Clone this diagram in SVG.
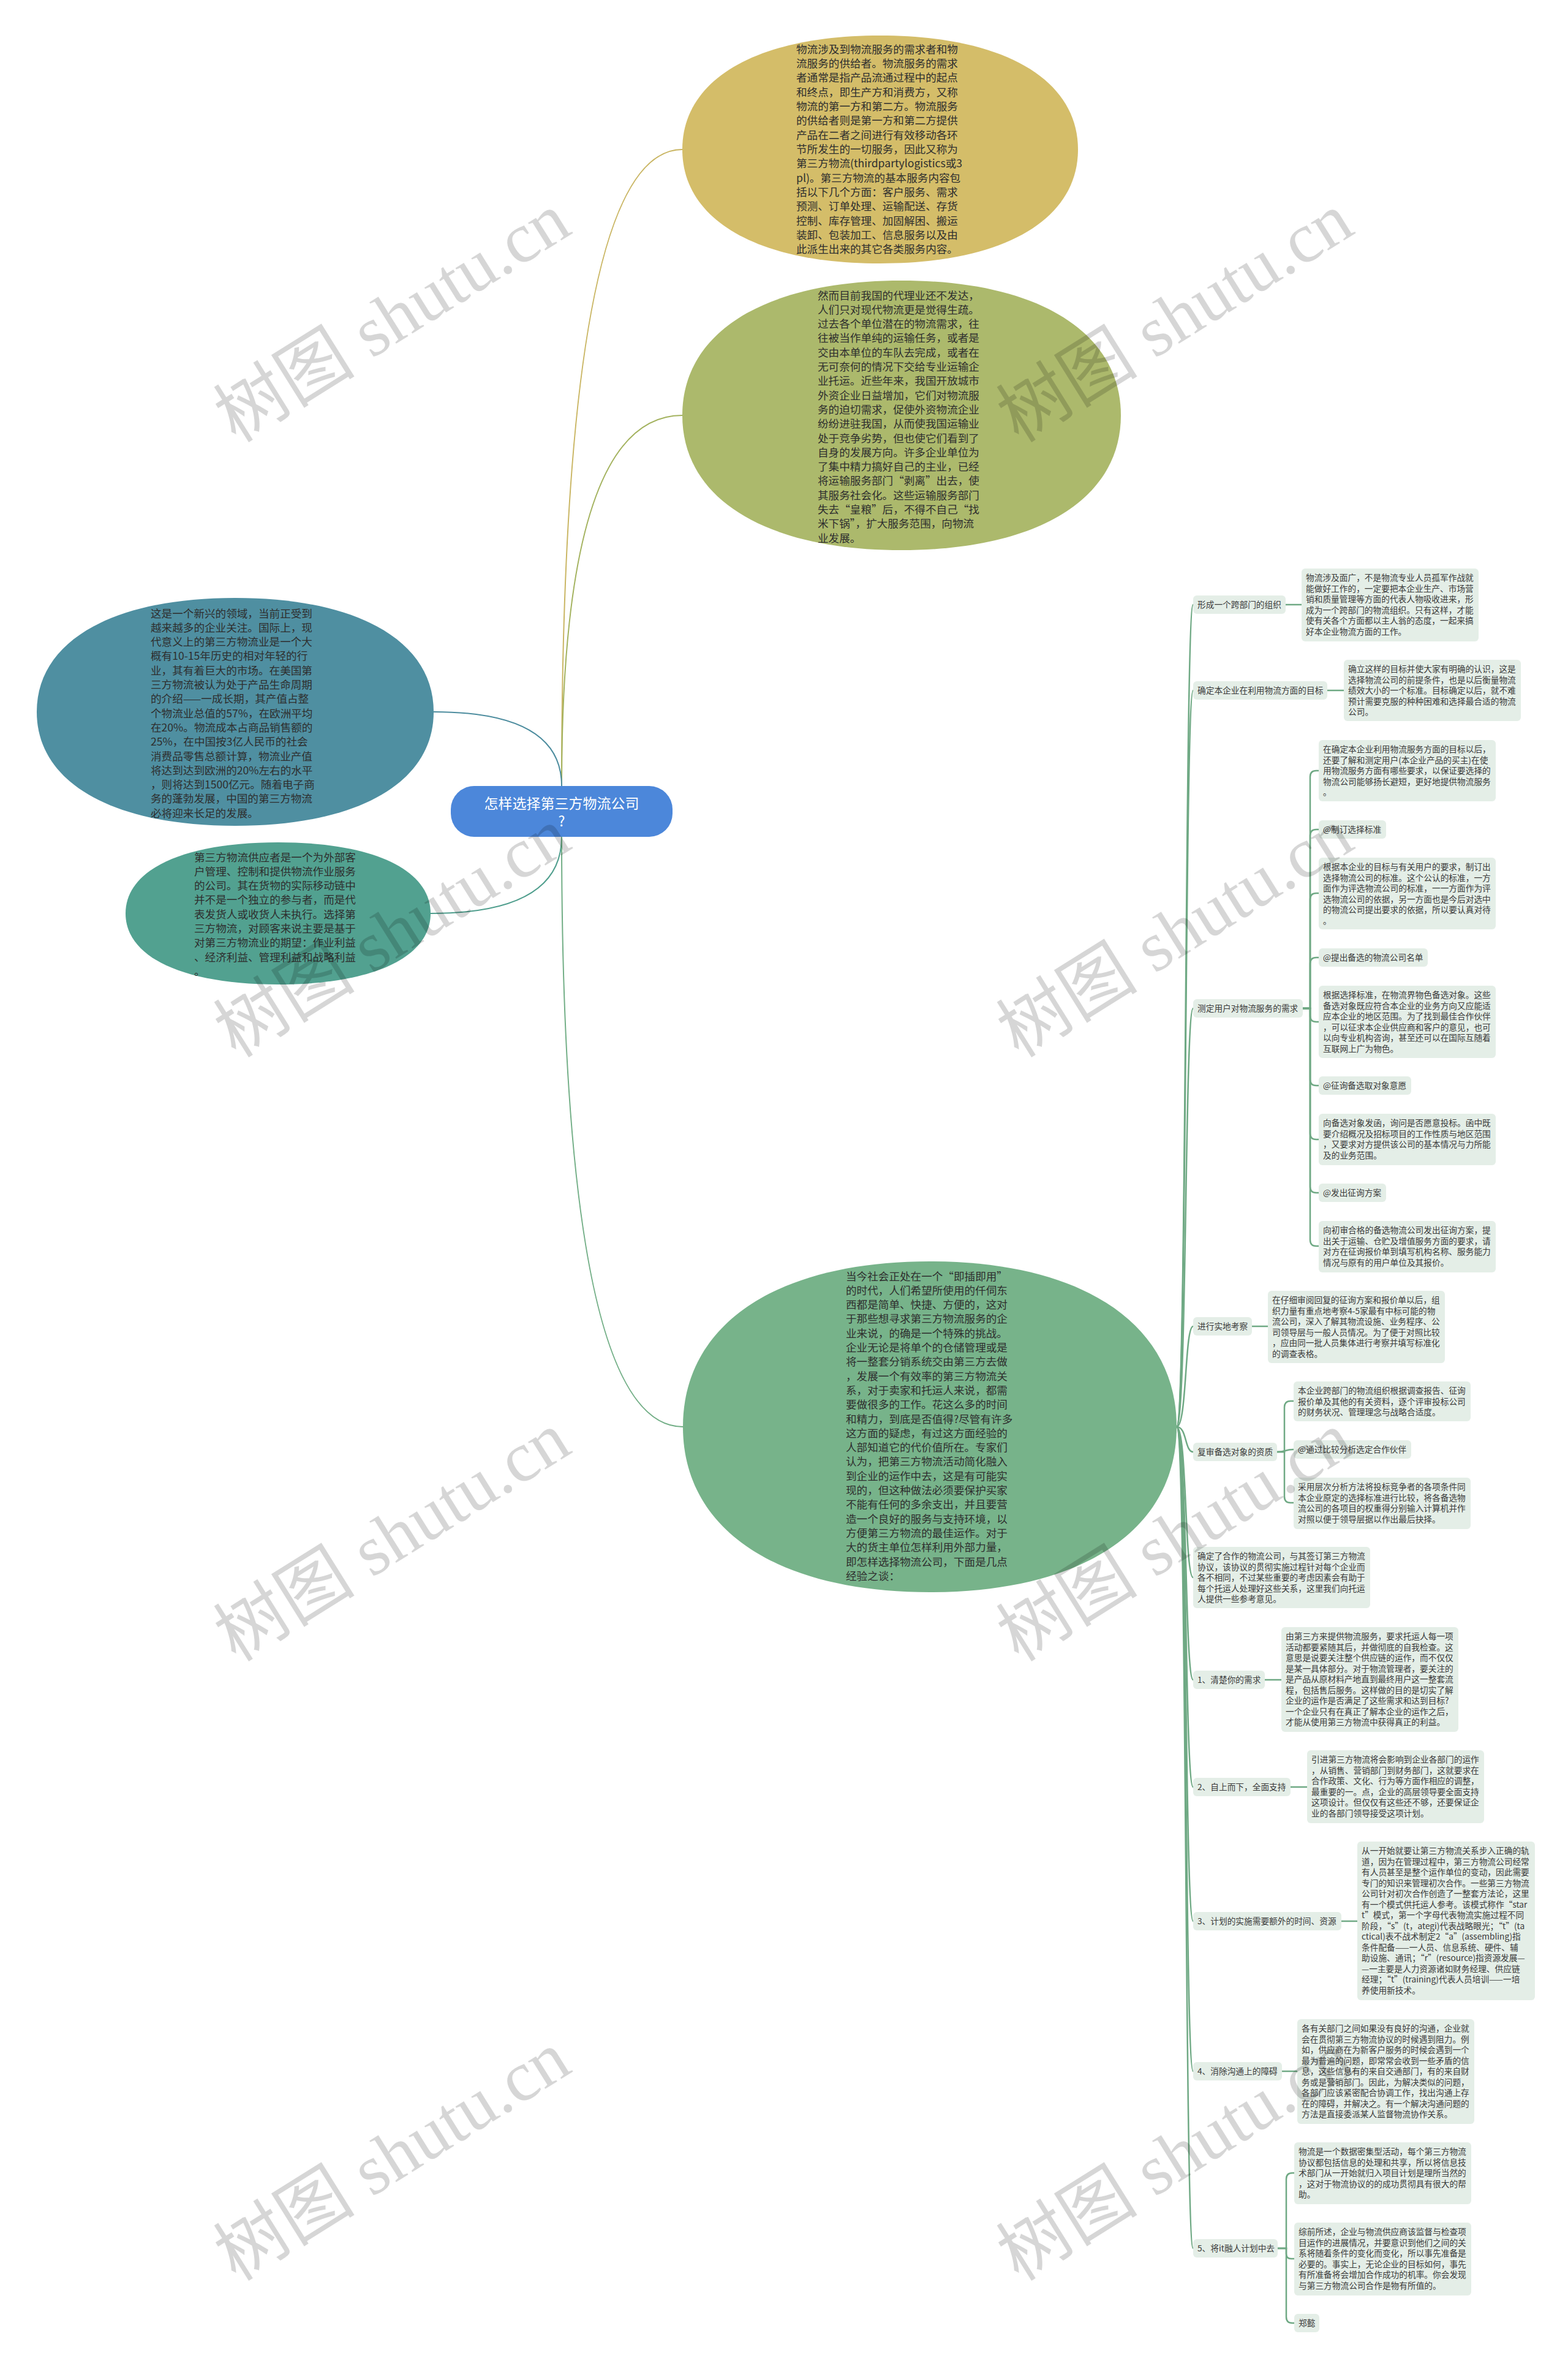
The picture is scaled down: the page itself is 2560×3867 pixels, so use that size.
<svg xmlns="http://www.w3.org/2000/svg" width="2560" height="3867" viewBox="0 0 2560 3867">
<style>
.el{font-family:"Noto Sans CJK SC","Liberation Sans",sans-serif;font-size:17.6px;fill:#2e2e2e}
.bt{font-family:"Noto Sans CJK SC","Liberation Sans",sans-serif;font-size:13.7px;fill:#3a3a3a}
.bx{fill:#E4EEE7}
.ln{fill:none;stroke:#6FA984;stroke-width:2.5}
.wm{font-family:"Liberation Serif","Noto Sans CJK SC",serif;font-size:116px;fill:#000;fill-opacity:0.16}
.ct{font-family:"Noto Sans CJK SC","Liberation Sans",sans-serif;font-size:23px;fill:#fff}
</style>
<rect width="2560" height="3867" fill="#fff"/>
<g id="connectors">
<path d="M917,1283 Q917,244 1114,244" fill="none" stroke="#C9B562" stroke-width="2"/>
<path d="M917,1283 Q917,678 1114,678" fill="none" stroke="#A3B25E" stroke-width="2"/>
<path d="M917,1283 Q917,1162 708,1162" fill="none" stroke="#4C8C9E" stroke-width="2"/>
<path d="M917,1366 Q917,1491 703,1491" fill="none" stroke="#4F9E8D" stroke-width="2"/>
<path d="M917,1366 Q917,2329 1115,2329" fill="none" stroke="#72AE86" stroke-width="2"/>
<path class="ln" d="M1921,2329 C1938,2329 1934,987 1948,987"/>
<path class="ln" d="M1921,2329 C1938,2329 1934,1127 1948,1127"/>
<path class="ln" d="M1921,2329 C1938,2329 1934,1646 1948,1646"/>
<path class="ln" d="M1921,2329 C1938,2329 1934,2165 1948,2165"/>
<path class="ln" d="M1921,2329 C1938,2329 1934,2370 1948,2370"/>
<path class="ln" d="M1921,2329 C1938,2329 1934,2575 1948,2575"/>
<path class="ln" d="M1921,2329 C1938,2329 1934,2742 1948,2742"/>
<path class="ln" d="M1921,2329 C1938,2329 1934,2917 1948,2917"/>
<path class="ln" d="M1921,2329 C1938,2329 1934,3136 1948,3136"/>
<path class="ln" d="M1921,2329 C1938,2329 1934,3381 1948,3381"/>
<path class="ln" d="M1921,2329 C1938,2329 1934,3670 1948,3670"/>
<path class="ln" d="M2099,987 H2125"/>
<path class="ln" d="M2167,1127 H2194"/>
<path class="ln" d="M2044,2165 H2070"/>
<path class="ln" d="M2065,2742 H2092"/>
<path class="ln" d="M2107,2917 H2134"/>
<path class="ln" d="M2190,3136 H2216"/>
<path class="ln" d="M2093,3381 H2118"/>
<path class="ln" d="M2127,1646 H2139 V1268 Q2139,1258 2149,1258 H2153"/>
<path class="ln" d="M2127,1646 H2139 V1364 Q2139,1354 2149,1354 H2153"/>
<path class="ln" d="M2127,1646 H2139 V1468 Q2139,1458 2149,1458 H2153"/>
<path class="ln" d="M2127,1646 H2139 V1573 Q2139,1563 2149,1563 H2153"/>
<path class="ln" d="M2127,1646 H2139 V1658 Q2139,1668 2149,1668 H2153"/>
<path class="ln" d="M2127,1646 H2139 V1762 Q2139,1772 2149,1772 H2153"/>
<path class="ln" d="M2127,1646 H2139 V1850 Q2139,1860 2149,1860 H2153"/>
<path class="ln" d="M2127,1646 H2139 V1937 Q2139,1947 2149,1947 H2153"/>
<path class="ln" d="M2127,1646 H2139 V2024 Q2139,2034 2149,2034 H2153"/>
<path class="ln" d="M2085,2370 H2097 V2297 Q2097,2287 2107,2287 H2112"/>
<path class="ln" d="M2085,2370 C2100,2370 2097,2366 2112,2366"/>
<path class="ln" d="M2085,2370 H2097 V2443 Q2097,2453 2107,2453 H2112"/>
<path class="ln" d="M2086,3670 H2100 V3557 Q2100,3547 2110,3547 H2113"/>
<path class="ln" d="M2086,3670 H2100 V3679 Q2100,3687 2108,3687 H2113"/>
<path class="ln" d="M2086,3670 H2100 V3782 Q2100,3792 2110,3792 H2113"/>
</g>
<g id="n-yellow">
<path d="M1114,244 C1114,128.7 1236.7,58 1437,58 C1637.3,58 1760,128.7 1760,244 C1760,359.3 1637.3,430 1437,430 C1236.7,430 1114,359.3 1114,244Z" fill="#D4BD69"/>
<text class="el" x="1300" y="86.5"><tspan x="1300" dy="0">物流涉及到物流服务的需求者和物</tspan><tspan x="1300" dy="23.35">流服务的供给者。物流服务的需求</tspan><tspan x="1300" dy="23.35">者通常是指产品流通过程中的起点</tspan><tspan x="1300" dy="23.35">和终点，即生产方和消费方，又称</tspan><tspan x="1300" dy="23.35">物流的第一方和第二方。物流服务</tspan><tspan x="1300" dy="23.35">的供给者则是第一方和第二方提供</tspan><tspan x="1300" dy="23.35">产品在二者之间进行有效移动各环</tspan><tspan x="1300" dy="23.35">节所发生的一切服务，因此又称为</tspan><tspan x="1300" dy="23.35">第三方物流(thirdpartylogistics或3</tspan><tspan x="1300" dy="23.35">pl)。第三方物流的基本服务内容包</tspan><tspan x="1300" dy="23.35">括以下几个方面：客户服务、需求</tspan><tspan x="1300" dy="23.35">预测、订单处理、运输配送、存货</tspan><tspan x="1300" dy="23.35">控制、库存管理、加固解困、搬运</tspan><tspan x="1300" dy="23.35">装卸、包装加工、信息服务以及由</tspan><tspan x="1300" dy="23.35">此派生出来的其它各类服务内容。</tspan></text>
</g>
<g id="n-olive">
<path d="M1114,678 C1114,541.6 1250,458 1472,458 C1694,458 1830,541.6 1830,678 C1830,814.4 1694,898 1472,898 C1250,898 1114,814.4 1114,678Z" fill="#ACB96C"/>
<text class="el" x="1335" y="488.5"><tspan x="1335" dy="0">然而目前我国的代理业还不发达，</tspan><tspan x="1335" dy="23.3">人们只对现代物流更是觉得生疏。</tspan><tspan x="1335" dy="23.3">过去各个单位潜在的物流需求，往</tspan><tspan x="1335" dy="23.3">往被当作单纯的运输任务，或者是</tspan><tspan x="1335" dy="23.3">交由本单位的车队去完成，或者在</tspan><tspan x="1335" dy="23.3">无可奈何的情况下交给专业运输企</tspan><tspan x="1335" dy="23.3">业托运。近些年来，我国开放城市</tspan><tspan x="1335" dy="23.3">外资企业日益增加，它们对物流服</tspan><tspan x="1335" dy="23.3">务的迫切需求，促使外资物流企业</tspan><tspan x="1335" dy="23.3">纷纷进驻我国，从而使我国运输业</tspan><tspan x="1335" dy="23.3">处于竞争劣势，但也使它们看到了</tspan><tspan x="1335" dy="23.3">自身的发展方向。许多企业单位为</tspan><tspan x="1335" dy="23.3">了集中精力搞好自己的主业，已经</tspan><tspan x="1335" dy="23.3">将运输服务部门“剥离”出去，使</tspan><tspan x="1335" dy="23.3">其服务社会化。这些运输服务部门</tspan><tspan x="1335" dy="23.3">失去“皇粮”后，不得不自己“找</tspan><tspan x="1335" dy="23.3">米下锅”，扩大服务范围，向物流</tspan><tspan x="1335" dy="23.3">业发展。</tspan></text>
</g>
<g id="n-blue">
<path d="M60,1162 C60,1046.7 183.1,976 384,976 C584.9,976 708,1046.7 708,1162 C708,1277.3 584.9,1348 384,1348 C183.1,1348 60,1277.3 60,1162Z" fill="#4F8FA1"/>
<text class="el" x="246" y="1007.5"><tspan x="246" dy="0">这是一个新兴的领域，当前正受到</tspan><tspan x="246" dy="23.3">越来越多的企业关注。国际上，现</tspan><tspan x="246" dy="23.3">代意义上的第三方物流业是一个大</tspan><tspan x="246" dy="23.3">概有10-15年历史的相对年轻的行</tspan><tspan x="246" dy="23.3">业，其有着巨大的市场。在美国第</tspan><tspan x="246" dy="23.3">三方物流被认为处于产品生命周期</tspan><tspan x="246" dy="23.3">的介绍——一成长期，其产值占整</tspan><tspan x="246" dy="23.3">个物流业总值的57%，在欧洲平均</tspan><tspan x="246" dy="23.3">在20%。物流成本占商品销售额的</tspan><tspan x="246" dy="23.3">25%，在中国按3亿人民币的社会</tspan><tspan x="246" dy="23.3">消费品零售总额计算，物流业产值</tspan><tspan x="246" dy="23.3">将达到达到欧洲的20%左右的水平</tspan><tspan x="246" dy="23.3">，则将达到1500亿元。随着电子商</tspan><tspan x="246" dy="23.3">务的蓬勃发展，中国的第三方物流</tspan><tspan x="246" dy="23.3">必将迎来长足的发展。</tspan></text>
</g>
<g id="n-teal">
<path d="M205,1491 C205,1419.1 299.6,1375 454,1375 C608.4,1375 703,1419.1 703,1491 C703,1562.9 608.4,1607 454,1607 C299.6,1607 205,1562.9 205,1491Z" fill="#52A190"/>
<text class="el" x="317" y="1405.5"><tspan x="317" dy="0">第三方物流供应者是一个为外部客</tspan><tspan x="317" dy="23.3">户管理、控制和提供物流作业服务</tspan><tspan x="317" dy="23.3">的公司。其在货物的实际移动链中</tspan><tspan x="317" dy="23.3">并不是一个独立的参与者，而是代</tspan><tspan x="317" dy="23.3">表发货人或收货人未执行。选择第</tspan><tspan x="317" dy="23.3">三方物流，对顾客来说主要是基于</tspan><tspan x="317" dy="23.3">对第三方物流业的期望：作业利益</tspan><tspan x="317" dy="23.3">、经济利益、管理利益和战略利益</tspan><tspan x="317" dy="23.3">。</tspan></text>
</g>
<g id="n-center">
<rect x="736" y="1283" width="362" height="83" rx="38" fill="#4C87DA"/>
<text class="ct" x="917" y="1320" text-anchor="middle">怎样选择第三方物流公司</text>
<text class="ct" x="917" y="1349" text-anchor="middle">?</text>
</g>
<g id="n-green">
<path d="M1115,2329 C1115,2161.6 1268.1,2059 1518,2059 C1767.9,2059 1921,2161.6 1921,2329 C1921,2496.4 1767.9,2599 1518,2599 C1268.1,2599 1115,2496.4 1115,2329Z" fill="#77B38A"/>
<text class="el" x="1381" y="2089.5"><tspan x="1381" dy="0">当今社会正处在一个“即插即用”</tspan><tspan x="1381" dy="23.3">的时代，人们希望所使用的仟伺东</tspan><tspan x="1381" dy="23.3">西都是简单、快捷、方便的，这对</tspan><tspan x="1381" dy="23.3">于那些想寻求第三方物流服务的企</tspan><tspan x="1381" dy="23.3">业来说，的确是一个特殊的挑战。</tspan><tspan x="1381" dy="23.3">企业无论是将单个的仓储管理或是</tspan><tspan x="1381" dy="23.3">将一整套分销系统交由第三方去做</tspan><tspan x="1381" dy="23.3">，发展一个有效率的第三方物流关</tspan><tspan x="1381" dy="23.3">系，对于卖家和托运人来说，都需</tspan><tspan x="1381" dy="23.3">要做很多的工作。花这么多的时间</tspan><tspan x="1381" dy="23.3">和精力，到底是否值得?尽管有许多</tspan><tspan x="1381" dy="23.3">这方面的疑虑，有过这方面经验的</tspan><tspan x="1381" dy="23.3">人部知道它的代价值所在。专家们</tspan><tspan x="1381" dy="23.3">认为，把第三方物流活动简化融入</tspan><tspan x="1381" dy="23.3">到企业的运作中去，这是有可能实</tspan><tspan x="1381" dy="23.3">现的，但这种做法必须要保护买家</tspan><tspan x="1381" dy="23.3">不能有任何的多余支出，并且要营</tspan><tspan x="1381" dy="23.3">造一个良好的服务与支持环境，以</tspan><tspan x="1381" dy="23.3">方便第三方物流的最佳运作。对于</tspan><tspan x="1381" dy="23.3">大的货主单位怎样利用外部力量，</tspan><tspan x="1381" dy="23.3">即怎样选择物流公司，下面是几点</tspan><tspan x="1381" dy="23.3">经验之谈：</tspan></text>
</g>
<g id="l1">
<rect class="bx" x="1948" y="972" width="151" height="30" rx="6"/>
<text class="bt" x="1955" y="992">形成一个跨部门的组织</text>
</g>
<g id="l1c">
<rect class="bx" x="2125" y="928" width="289" height="119" rx="6"/>
<text class="bt" x="2132" y="948"><tspan x="2132" dy="0">物流涉及面广，不是物流专业人员孤军作战就</tspan><tspan x="2132" dy="17.5">能做好工作的，一定要把本企业生产、市场营</tspan><tspan x="2132" dy="17.5">销和质量管理等方面的代表人物吸收进来，形</tspan><tspan x="2132" dy="17.5">成为一个跨部门的物流组织。只有这样，才能</tspan><tspan x="2132" dy="17.5">使有关各个方面都以主人翁的态度，一起来搞</tspan><tspan x="2132" dy="17.5">好本企业物流方面的工作。</tspan></text>
</g>
<g id="l2">
<rect class="bx" x="1948" y="1112" width="219" height="30" rx="6"/>
<text class="bt" x="1955" y="1132">确定本企业在利用物流方面的目标</text>
</g>
<g id="l2c">
<rect class="bx" x="2194" y="1077" width="289" height="100" rx="6"/>
<text class="bt" x="2201" y="1097"><tspan x="2201" dy="0">确立这样的目标并使大家有明确的认识，这是</tspan><tspan x="2201" dy="17.5">选择物流公司的前提条件，也是以后衡量物流</tspan><tspan x="2201" dy="17.5">绩效大小的一个标准。目标确定以后，就不难</tspan><tspan x="2201" dy="17.5">预计需要克服的种种困难和选择最合适的物流</tspan><tspan x="2201" dy="17.5">公司。</tspan></text>
</g>
<g id="l3">
<rect class="bx" x="1948" y="1631" width="179" height="30" rx="6"/>
<text class="bt" x="1955" y="1651">测定用户对物流服务的需求</text>
</g>
<g id="l3a">
<rect class="bx" x="2153" y="1208" width="289" height="100" rx="6"/>
<text class="bt" x="2160" y="1228"><tspan x="2160" dy="0">在确定本企业利用物流服务方面的目标以后，</tspan><tspan x="2160" dy="17.5">还要了解和测定用户(本企业产品的买主)在使</tspan><tspan x="2160" dy="17.5">用物流服务方面有哪些要求，以保证要选择的</tspan><tspan x="2160" dy="17.5">物流公司能够扬长避短，更好地提供物流服务</tspan><tspan x="2160" dy="17.5">。</tspan></text>
</g>
<g id="l3b">
<rect class="bx" x="2153" y="1339" width="110" height="30" rx="6"/>
<text class="bt" x="2160" y="1359">@制订选择标准</text>
</g>
<g id="l3c">
<rect class="bx" x="2153" y="1400" width="289" height="117" rx="6"/>
<text class="bt" x="2160" y="1420"><tspan x="2160" dy="0">根据本企业的目标与有关用户的要求，制订出</tspan><tspan x="2160" dy="17.5">选择物流公司的标准。这个公认的标准，一方</tspan><tspan x="2160" dy="17.5">面作为评选物流公司的标准，一一方面作为评</tspan><tspan x="2160" dy="17.5">选物流公司的依据，另一方面也是今后对选中</tspan><tspan x="2160" dy="17.5">的物流公司提出要求的依据，所以要认真对待</tspan><tspan x="2160" dy="17.5">。</tspan></text>
</g>
<g id="l3d">
<rect class="bx" x="2153" y="1548" width="178" height="30" rx="6"/>
<text class="bt" x="2160" y="1568">@提出备选的物流公司名单</text>
</g>
<g id="l3e">
<rect class="bx" x="2153" y="1609" width="289" height="118" rx="6"/>
<text class="bt" x="2160" y="1629"><tspan x="2160" dy="0">根据选择标准，在物流界物色备选对象。这些</tspan><tspan x="2160" dy="17.5">备选对象既应符合本企业的业务方向又应能适</tspan><tspan x="2160" dy="17.5">应本企业的地区范围。为了找到最佳合作伙伴</tspan><tspan x="2160" dy="17.5">，可以征求本企业供应商和客户的意见，也可</tspan><tspan x="2160" dy="17.5">以向专业机构咨询，甚至还可以在国际互随着</tspan><tspan x="2160" dy="17.5">互联网上广为物色。</tspan></text>
</g>
<g id="l3f">
<rect class="bx" x="2153" y="1757" width="151" height="30" rx="6"/>
<text class="bt" x="2160" y="1777">@征询备选取对象意愿</text>
</g>
<g id="l3g">
<rect class="bx" x="2153" y="1818" width="289" height="84" rx="6"/>
<text class="bt" x="2160" y="1838"><tspan x="2160" dy="0">向备选对象发函，询问是否愿意投标。函中既</tspan><tspan x="2160" dy="17.5">要介绍概况及招标项目的工作性质与地区范围</tspan><tspan x="2160" dy="17.5">，又要求对方提供该公司的基本情况与力所能</tspan><tspan x="2160" dy="17.5">及的业务范围。</tspan></text>
</g>
<g id="l3h">
<rect class="bx" x="2153" y="1932" width="110" height="30" rx="6"/>
<text class="bt" x="2160" y="1952">@发出征询方案</text>
</g>
<g id="l3i">
<rect class="bx" x="2153" y="1993" width="289" height="84" rx="6"/>
<text class="bt" x="2160" y="2013"><tspan x="2160" dy="0">向初审合格的备选物流公司发出征询方案，提</tspan><tspan x="2160" dy="17.5">出关于运输、仓贮及增值服务方面的要求，请</tspan><tspan x="2160" dy="17.5">对方在征询报价单到填写机构名称、服务能力</tspan><tspan x="2160" dy="17.5">情况与原有的用户单位及其报价。</tspan></text>
</g>
<g id="l4">
<rect class="bx" x="1948" y="2150" width="96" height="30" rx="6"/>
<text class="bt" x="1955" y="2170">进行实地考察</text>
</g>
<g id="l4c">
<rect class="bx" x="2070" y="2107" width="289" height="118" rx="6"/>
<text class="bt" x="2077" y="2127"><tspan x="2077" dy="0">在仔细审阅回复的征询方案和报价单以后，组</tspan><tspan x="2077" dy="17.5">织力量有重点地考察4-5家最有中标可能的物</tspan><tspan x="2077" dy="17.5">流公司，深入了解其物流设施、业务程序、公</tspan><tspan x="2077" dy="17.5">司领导层与一般人员情况。为了便于对照比较</tspan><tspan x="2077" dy="17.5">，应由同一批人员集体进行考察并填写标准化</tspan><tspan x="2077" dy="17.5">的调查表格。</tspan></text>
</g>
<g id="l5">
<rect class="bx" x="1948" y="2355" width="137" height="30" rx="6"/>
<text class="bt" x="1955" y="2375">复审备选对象的资质</text>
</g>
<g id="l5a">
<rect class="bx" x="2112" y="2255" width="289" height="65" rx="6"/>
<text class="bt" x="2119" y="2275"><tspan x="2119" dy="0">本企业跨部门的物流组织根据调查报告、征询</tspan><tspan x="2119" dy="17.5">报价单及其他的有关资料，逐个评审投标公司</tspan><tspan x="2119" dy="17.5">的财务状况、管理理念与战略合适度。</tspan></text>
</g>
<g id="l5b">
<rect class="bx" x="2112" y="2351" width="192" height="30" rx="6"/>
<text class="bt" x="2119" y="2371">@通过比较分析选定合作伙伴</text>
</g>
<g id="l5c">
<rect class="bx" x="2112" y="2412" width="289" height="84" rx="6"/>
<text class="bt" x="2119" y="2432"><tspan x="2119" dy="0">采用层次分析方法将投标竞争者的各项条件同</tspan><tspan x="2119" dy="17.5">本企业原定的选择标准进行比较，将各备选物</tspan><tspan x="2119" dy="17.5">流公司的各项目的权重得分别输入计算机并作</tspan><tspan x="2119" dy="17.5">对照以便于领导层据以作出最后抉择。</tspan></text>
</g>
<g id="l6">
<rect class="bx" x="1948" y="2525" width="289" height="100" rx="6"/>
<text class="bt" x="1955" y="2545"><tspan x="1955" dy="0">确定了合作的物流公司，与其签订第三方物流</tspan><tspan x="1955" dy="17.5">协议，该协议的贯彻实施过程针对每个企业而</tspan><tspan x="1955" dy="17.5">各不相同，不过某些重要的考虑因素会有助于</tspan><tspan x="1955" dy="17.5">每个托运人处理好这些关系，这里我们向托运</tspan><tspan x="1955" dy="17.5">人提供一些参考意见。</tspan></text>
</g>
<g id="l7">
<rect class="bx" x="1948" y="2727" width="117" height="30" rx="6"/>
<text class="bt" x="1955" y="2747">1、清楚你的需求</text>
</g>
<g id="l7c">
<rect class="bx" x="2092" y="2656" width="289" height="171" rx="6"/>
<text class="bt" x="2099" y="2676"><tspan x="2099" dy="0">由第三方来提供物流服务，要求托运人每一项</tspan><tspan x="2099" dy="17.5">活动都要紧随其后，并做彻底的自我检查。这</tspan><tspan x="2099" dy="17.5">意思是说要关注整个供应链的运作，而不仅仅</tspan><tspan x="2099" dy="17.5">是某一具体部分。对于物流管理者，要关注的</tspan><tspan x="2099" dy="17.5">是产品从原材料产地直到最终用户这一整套流</tspan><tspan x="2099" dy="17.5">程，包括售后服务。这样做的目的是切实了解</tspan><tspan x="2099" dy="17.5">企业的运作是否满足了这些需求和达到目标?</tspan><tspan x="2099" dy="17.5">一个企业只有在真正了解本企业的运作之后，</tspan><tspan x="2099" dy="17.5">才能从使用第三方物流中获得真正的利益。</tspan></text>
</g>
<g id="l8">
<rect class="bx" x="1948" y="2902" width="159" height="30" rx="6"/>
<text class="bt" x="1955" y="2922">2、自上而下，全面支持</text>
</g>
<g id="l8c">
<rect class="bx" x="2134" y="2857" width="289" height="119" rx="6"/>
<text class="bt" x="2141" y="2877"><tspan x="2141" dy="0">引进第三方物流将会影响到企业各部门的运作</tspan><tspan x="2141" dy="17.5">，从销售、营销部门到财务部门，这就要求在</tspan><tspan x="2141" dy="17.5">合作政策、文化、行为等方面作相应的调整，</tspan><tspan x="2141" dy="17.5">最重要的一。点，企业的高层领导要全面支持</tspan><tspan x="2141" dy="17.5">这项设计。但仅仅有这些还不够，还要保证企</tspan><tspan x="2141" dy="17.5">业的各部门领导接受这项计划。</tspan></text>
</g>
<g id="l9">
<rect class="bx" x="1948" y="3121" width="242" height="30" rx="6"/>
<text class="bt" x="1955" y="3141">3、计划的实施需要额外的时间、资源</text>
</g>
<g id="l9c">
<rect class="bx" x="2216" y="3006" width="290" height="259" rx="6"/>
<text class="bt" x="2223" y="3026"><tspan x="2223" dy="0">从一开始就要让第三方物流关系步入正确的轨</tspan><tspan x="2223" dy="17.5">道，因为在管理过程中，第三方物流公司经常</tspan><tspan x="2223" dy="17.5">有人员甚至是整个运作单位的变动，因此需要</tspan><tspan x="2223" dy="17.5">专门的知识来管理初次合作。一些第三方物流</tspan><tspan x="2223" dy="17.5">公司针对初次合作创造了一整套方法论，这里</tspan><tspan x="2223" dy="17.5">有一个模式供托运人参考。该模式称作“star</tspan><tspan x="2223" dy="17.5">t”模式，第一个字母代表物流实施过程不同</tspan><tspan x="2223" dy="17.5">阶段，“s”(t，ategi)代表战略眼光；“t”(ta</tspan><tspan x="2223" dy="17.5">ctical)表不战术制定2“a”(assembling)指</tspan><tspan x="2223" dy="17.5">条件配备——一人员、信息系统、硬件、辅</tspan><tspan x="2223" dy="17.5">助设施、通讯；“r”(resource)指资源发展—</tspan><tspan x="2223" dy="17.5">—一主要是人力资源诸如财务经理、供应链</tspan><tspan x="2223" dy="17.5">经理；“t”(training)代表人员培训——一培</tspan><tspan x="2223" dy="17.5">养使用新技术。</tspan></text>
</g>
<g id="l10">
<rect class="bx" x="1948" y="3366" width="145" height="30" rx="6"/>
<text class="bt" x="1955" y="3386">4、消除沟通上的障碍</text>
</g>
<g id="l10c">
<rect class="bx" x="2118" y="3296" width="289" height="171" rx="6"/>
<text class="bt" x="2125" y="3316"><tspan x="2125" dy="0">各有关部门之间如果没有良好的沟通，企业就</tspan><tspan x="2125" dy="17.5">会在贯彻第三方物流协议的时候遇到阻力。例</tspan><tspan x="2125" dy="17.5">如，供应商在为新客户服务的时候会遇到一个</tspan><tspan x="2125" dy="17.5">最为普遍的问题，即常常会收到一些矛盾的信</tspan><tspan x="2125" dy="17.5">息，这些信息有的来自交通部门，有的来自财</tspan><tspan x="2125" dy="17.5">务或是营销部门。因此，为解决类似的问题，</tspan><tspan x="2125" dy="17.5">各部门应该紧密配合协调工作，找出沟通上存</tspan><tspan x="2125" dy="17.5">在的障碍，并解决之。有一个解决沟通问题的</tspan><tspan x="2125" dy="17.5">方法是直接委派某人监督物流协作关系。</tspan></text>
</g>
<g id="l11">
<rect class="bx" x="1948" y="3655" width="138" height="30" rx="6"/>
<text class="bt" x="1955" y="3675">5、将it融人计划中去</text>
</g>
<g id="l11a">
<rect class="bx" x="2113" y="3497" width="289" height="101" rx="6"/>
<text class="bt" x="2120" y="3517"><tspan x="2120" dy="0">物流是一个数据密集型活动，每个第三方物流</tspan><tspan x="2120" dy="17.5">协议都包括信息的处理和共享，所以将信息技</tspan><tspan x="2120" dy="17.5">术部门从一开始就归入项目计划是理所当然的</tspan><tspan x="2120" dy="17.5">，这对于物流协议的的成功贯彻具有很大的帮</tspan><tspan x="2120" dy="17.5">助。</tspan></text>
</g>
<g id="l11b">
<rect class="bx" x="2113" y="3628" width="289" height="119" rx="6"/>
<text class="bt" x="2120" y="3648"><tspan x="2120" dy="0">综前所述，企业与物流供应商该监督与检查项</tspan><tspan x="2120" dy="17.5">目运作的进展情况，并要意识到他们之间的关</tspan><tspan x="2120" dy="17.5">系将随着条件的变化而变化，所以事先准备是</tspan><tspan x="2120" dy="17.5">必要的。事实上，无论企业的目标如何，事先</tspan><tspan x="2120" dy="17.5">有所准备将会增加合作成功的机率。你会发现</tspan><tspan x="2120" dy="17.5">与第三方物流公司合作是物有所值的。</tspan></text>
</g>
<g id="l11c">
<rect class="bx" x="2113" y="3777" width="41" height="30" rx="6"/>
<text class="bt" x="2120" y="3797">郑懿</text>
</g>
<g id="watermarks">
<text class="wm" transform="translate(640,518) rotate(-32)" x="0" y="40" text-anchor="middle">树图 shutu.cn</text>
<text class="wm" transform="translate(1918,518) rotate(-32)" x="0" y="40" text-anchor="middle">树图 shutu.cn</text>
<text class="wm" transform="translate(640,1522) rotate(-32)" x="0" y="40" text-anchor="middle">树图 shutu.cn</text>
<text class="wm" transform="translate(1918,1522) rotate(-32)" x="0" y="40" text-anchor="middle">树图 shutu.cn</text>
<text class="wm" transform="translate(640,2508) rotate(-32)" x="0" y="40" text-anchor="middle">树图 shutu.cn</text>
<text class="wm" transform="translate(1918,2508) rotate(-32)" x="0" y="40" text-anchor="middle">树图 shutu.cn</text>
<text class="wm" transform="translate(640,3519) rotate(-32)" x="0" y="40" text-anchor="middle">树图 shutu.cn</text>
<text class="wm" transform="translate(1918,3519) rotate(-32)" x="0" y="40" text-anchor="middle">树图 shutu.cn</text>
</g>
</svg>
